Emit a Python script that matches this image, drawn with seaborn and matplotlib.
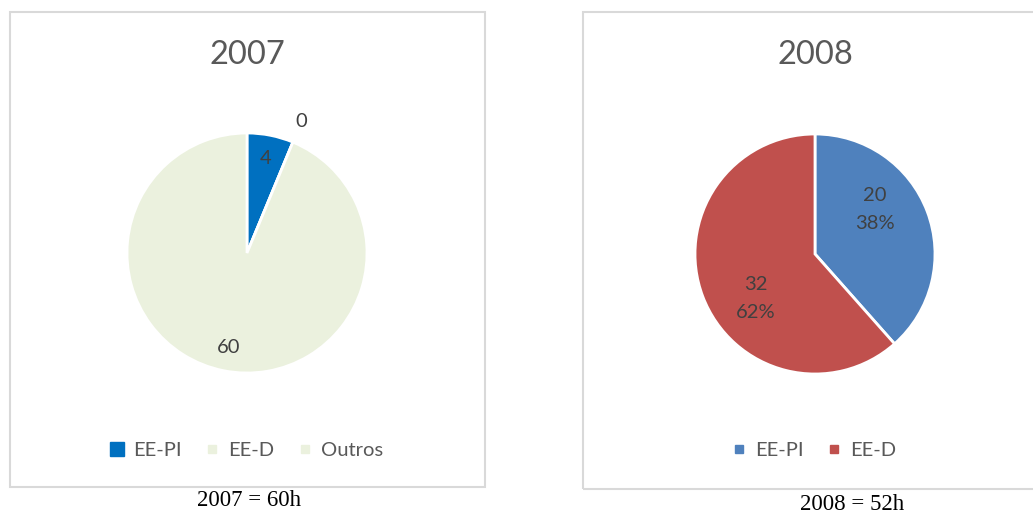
# import the libraries
import numpy as np
import seaborn as sns
import matplotlib.pyplot as plt
from matplotlib.patches import Rectangle
from matplotlib.lines import Line2D

# data
labels_2007 = ["EE-PI", "EE-D", "Outros"]
values_2007 = [4, 0, 60]
colors_2007 = ["#0070C0", "#EBF1DE", "#EBF1DE"]

labels_2008 = ["EE-PI", "EE-D"]
values_2008 = [20, 32]
colors_2008 = ["#4F81BD", "#C0504D"]

# theme first, fonts after it
sns.set_theme(style="white")
plt.rcParams["font.family"] = ["Lato", "DejaVu Sans"]

W, H = 1033, 515
fig = plt.figure(figsize=(W / 100, H / 100), dpi=100)
fig.patch.set_facecolor("white")


def px_box(x0, y0, x1, y1):
    # pixel box (top-left origin) -> figure fraction rect
    return [x0 / W, 1 - y1 / H, (x1 - x0) / W, (y1 - y0) / H]


def draw_panel(border, center, labels, values, colors, title, caption, cap_xy,
               label_dist, label_rot, show_pct, swatch_sizes):
    # panel border
    b = px_box(*border)
    fig.patches.append(Rectangle((b[0], b[1]), b[2], b[3], transform=fig.transFigure,
                                 fill=False, edgecolor="#D9D9D9", linewidth=1.5))

    # pie axes, 120 px radius, limits +-1.5
    cx, cy = center
    ax = fig.add_axes(px_box(cx - 180, cy - 180, cx + 180, cy + 180))
    wedges, _ = ax.pie(values, colors=colors, startangle=90, counterclock=False,
                       wedgeprops={"edgecolor": "white", "linewidth": 2})
    ax.set_xlim(-1.5, 1.5)
    ax.set_ylim(-1.5, 1.5)
    ax.set_aspect("equal")
    ax.axis("off")

    total = sum(values)
    for w, v in zip(wedges, values):
        mid = np.deg2rad((w.theta1 + w.theta2) / 2 + label_rot)
        r = label_dist if v > 0 else 1.19
        txt = str(v)
        if show_pct:
            txt += "\n{:.0f}%".format(100 * v / total)
        ax.text(r * np.cos(mid), r * np.sin(mid), txt, ha="center", va="center",
                fontsize=14.5, color="#404040", linespacing=1.75)

    # title
    fig.text(cx / W, 1 - 55 / H, title, ha="center", va="center",
             fontsize=23.5, color="#595959")

    # legend
    handles = [Line2D([], [], marker="s", linestyle="", markersize=s,
                      markerfacecolor=c, markeredgecolor=c)
               for c, s in zip(colors, swatch_sizes)]
    fig.legend(handles, labels, loc="center", bbox_to_anchor=(cx / W, 1 - 450 / H),
               ncol=len(labels), frameon=False, fontsize=14.5, labelcolor="#595959",
               handlelength=0.6, handletextpad=0.5, columnspacing=1.2)

    # caption below the panel
    fig.text(cap_xy[0] / W, 1 - cap_xy[1] / H, caption, ha="center", va="center",
             fontsize=16.5, color="black", family="Liberation Serif")


draw_panel((10, 12, 485, 487), (247, 253), labels_2007, values_2007, colors_2007,
           "2007", "2007 = 60h", (249, 501), 0.8, 0, False, [9.5, 6, 6])
draw_panel((583, 12, 1040, 489), (815, 254), labels_2008, values_2008, colors_2008,
           "2008", "2008 = 52h", (852, 504), 0.62, 16, True, [6, 6])

fig.savefig("out.png", dpi=100)
